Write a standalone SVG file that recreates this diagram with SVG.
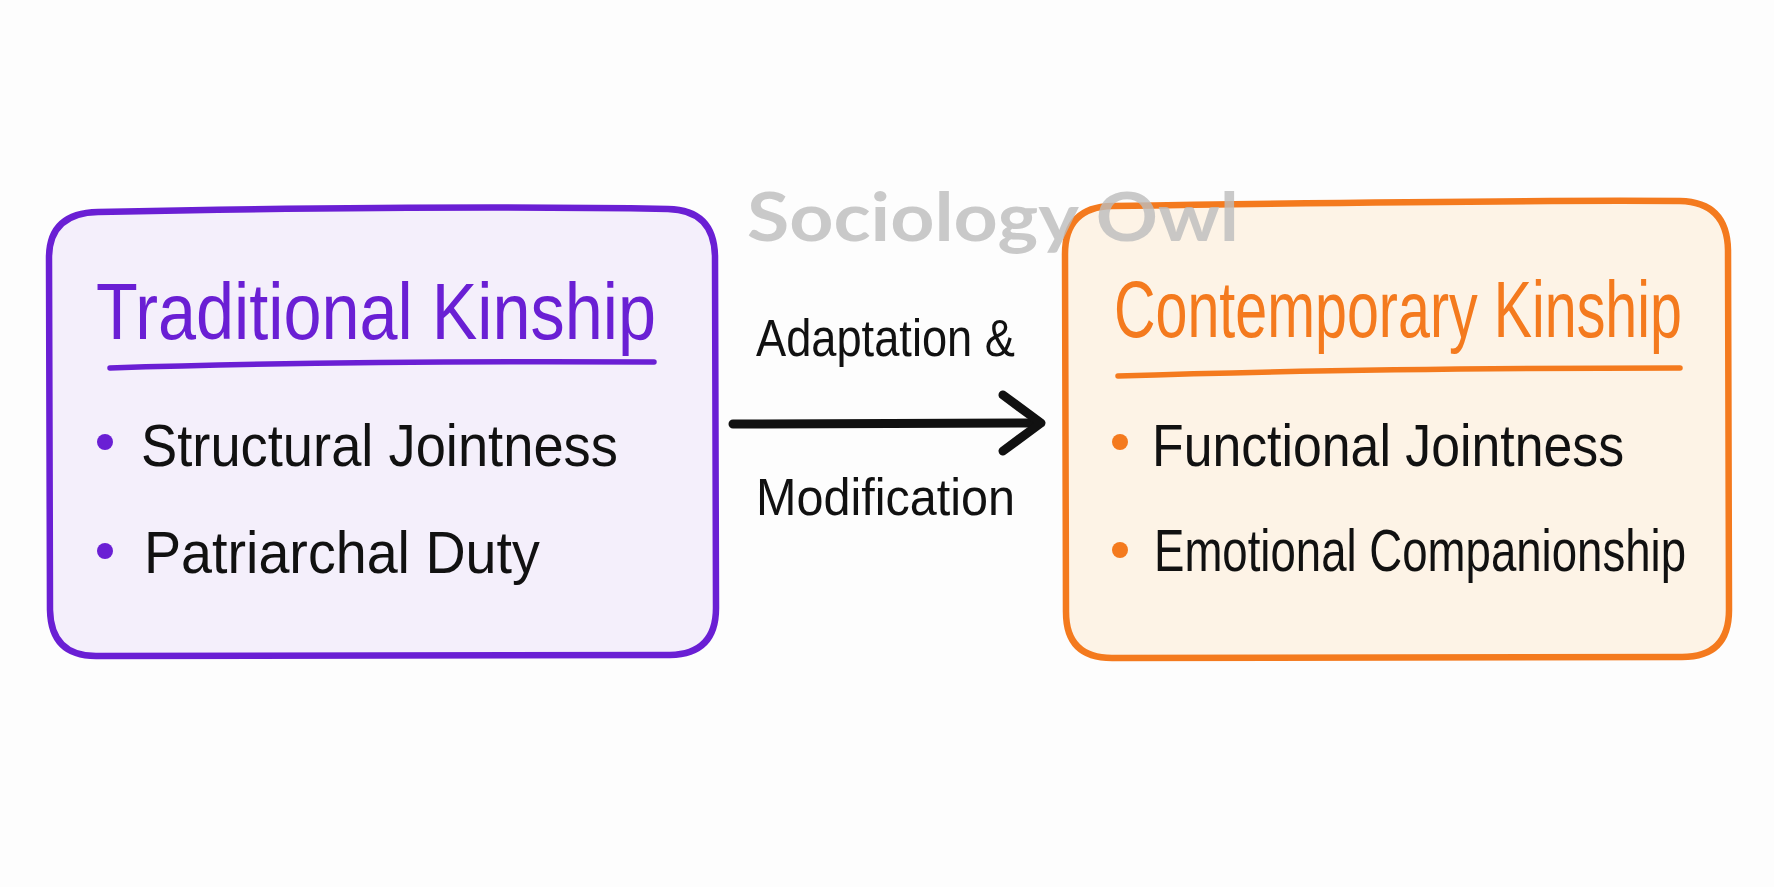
<svg xmlns="http://www.w3.org/2000/svg" width="1774" height="887" viewBox="0 0 1774 887">
<style>
.hand{font-family:"Liberation Sans","DejaVu Sans",sans-serif;}
.title{font-size:80px;}
.item{font-size:60px;fill:#111111;}
.lbl{font-size:52px;fill:#111111;}
.wm{font-family:"Lato","Liberation Sans",sans-serif;font-weight:700;font-size:66px;fill:#bdbdbd;opacity:0.8;}
</style>
<rect x="0" y="0" width="1774" height="887" fill="#fdfdfd"/>
<g id="traditional">
<path d="M98 212 C300 208 500 206 668 209 Q714 210 715 256 L716 608 Q716 654 670 655 L96 656 Q51 656 50 610 L49 258 Q49 213 98 212 Z" fill="#f4effb" stroke="#6a1fd4" stroke-width="6.5" stroke-linejoin="round"/>
<text class="hand title" transform="translate(96,339) scale(0.851,1)" fill="#6a1fd4" textLength="658" lengthAdjust="spacingAndGlyphs">Traditional Kinship</text>
<path d="M110 368 C300 362 480 361 654 362" fill="none" stroke="#6a1fd4" stroke-width="5.5" stroke-linecap="round"/>
<circle cx="105" cy="442" r="8" fill="#6a1fd4"/>
<text class="hand item" transform="translate(141,466) scale(0.905,1)" textLength="527" lengthAdjust="spacingAndGlyphs">Structural Jointness</text>
<circle cx="105" cy="551" r="8" fill="#6a1fd4"/>
<text class="hand item" transform="translate(144,573) scale(0.927,1)" textLength="427" lengthAdjust="spacingAndGlyphs">Patriarchal Duty</text>
</g>
<g id="contemporary">
<path d="M1112 206 C1300 203 1500 200 1680 201 Q1727 202 1728 250 L1729 610 Q1729 657 1682 657 L1112 658 Q1066 658 1066 612 L1065 254 Q1065 207 1112 206 Z" fill="#fdf3e6" stroke="#f47a1e" stroke-width="6.5" stroke-linejoin="round"/>
<text class="hand title" transform="translate(1114,337) scale(0.718,1)" fill="#f47a1e" textLength="791" lengthAdjust="spacingAndGlyphs">Contemporary Kinship</text>
<path d="M1118 376 C1300 370 1500 368 1680 368" fill="none" stroke="#f47a1e" stroke-width="5.5" stroke-linecap="round"/>
<circle cx="1120" cy="442" r="8" fill="#f47a1e"/>
<text class="hand item" transform="translate(1152,466) scale(0.863,1)" textLength="547" lengthAdjust="spacingAndGlyphs">Functional Jointness</text>
<circle cx="1120" cy="550" r="8" fill="#f47a1e"/>
<text class="hand item" transform="translate(1154,571) scale(0.76,1)" textLength="700" lengthAdjust="spacingAndGlyphs">Emotional Companionship</text>
</g>
<g id="connectors">
<path d="M733 424 L1040 423" fill="none" stroke="#111111" stroke-width="9" stroke-linecap="round"/>
<path d="M1003 395 L1041 423 L1003 451" fill="none" stroke="#111111" stroke-width="9" stroke-linecap="round" stroke-linejoin="round"/>
<text class="hand lbl" transform="translate(756,356) scale(0.869,1)" textLength="298" lengthAdjust="spacingAndGlyphs">Adaptation &amp;</text>
<text class="hand lbl" transform="translate(756,515) scale(0.935,1)" textLength="277" lengthAdjust="spacingAndGlyphs">Modification</text>
</g>
<text class="wm" x="747" y="241" textLength="492" lengthAdjust="spacingAndGlyphs">Sociology Owl</text>
</svg>
